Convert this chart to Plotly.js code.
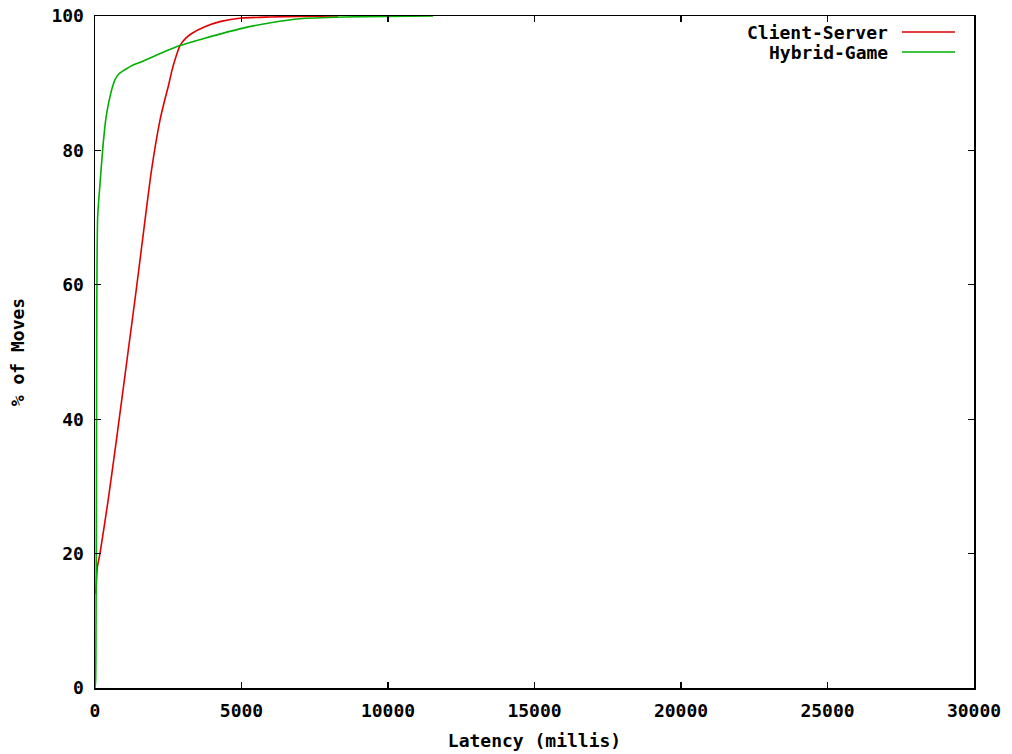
<!DOCTYPE html>
<html>
<head>
<meta charset="utf-8">
<script src="https://cdn.plot.ly/plotly-3.0.1.min.js"></script>
<style>html,body{margin:0;padding:0;background:#fff;}#chart{width:1012px;height:754px;}</style>
</head>
<body>
<div id="chart"></div>
<script>
// Client-Server CDF
const csLatency = [30, 80, 170, 450, 740, 1137, 1400, 1706, 1930, 2218, 2380, 2500, 2620, 2730, 2900, 3100, 3300, 3750, 4300, 5000, 6000, 7000, 8300];
const csPercent = [14, 18, 20, 28, 37.2, 50.3, 59, 69.6, 77.1, 84.5, 87.5, 89.5, 91.8, 93.5, 95.6, 96.7, 97.4, 98.4, 99.2, 99.7, 99.85, 99.95, 100];
// Hybrid-Game CDF
const hgLatency = [0, 20, 35, 50, 60, 90, 170, 205, 280, 365, 440, 512, 600, 680, 820, 1020, 1300, 1590, 2270, 2900, 3750, 5050, 6000, 7000, 8500, 10000, 11540];
const hgPercent = [0, 1, 10, 30, 55, 70, 75, 77, 81, 84.5, 86.5, 88, 89.5, 90.5, 91.4, 92, 92.7, 93.2, 94.5, 95.6, 96.7, 98.2, 99.0, 99.6, 99.85, 99.95, 100];

const seriesNames = ["Client-Server", "Hybrid-Game"];
const seriesColors = ["#e00000", "#00b000"];
const xTicks = [0, 5000, 10000, 15000, 20000, 25000, 30000];
const yTicks = [0, 20, 40, 60, 80, 100];

const FONT = {family: "DejaVu Sans Mono, monospace", size: 18, color: "#000"};

const traces = [
  {x: csLatency, y: csPercent, name: seriesNames[0], mode: "lines", line: {color: seriesColors[0], width: 1.6, shape: "spline", smoothing: 0.6}},
  {x: hgLatency, y: hgPercent, name: seriesNames[1], mode: "lines", line: {color: seriesColors[1], width: 1.6, shape: "spline", smoothing: 0.6}}
];

const L = 95, R = 38, T = 16, B = 66;
const W = 1012 - L - R, H = 754 - T - B;
function px(p){ return (p - L) / W; }
function py(p){ return (754 - B - p) / H; }

const legendY = [py(32), py(52)];
const annotations = seriesNames.map((n, i) => ({
  xref: "paper", yref: "paper", x: px(890), y: legendY[i], xanchor: "right", yanchor: "middle",
  text: "<b>" + n + "</b>", showarrow: false, font: FONT
}));
const shapes = seriesNames.map((n, i) => ({
  type: "line", xref: "paper", yref: "paper", x0: px(902), x1: px(955), y0: legendY[i], y1: legendY[i],
  line: {color: seriesColors[i], width: 1.6}
}));

const axisCommon = {
  showline: true, linecolor: "#000", linewidth: 1.5, mirror: "ticks",
  ticks: "inside", ticklen: 6, tickwidth: 1.2, tickcolor: "#000",
  showgrid: false, zeroline: false, tickfont: FONT, ticklabelstandoff: 6
};

const layout = {
  width: 1012, height: 754,
  margin: {l: L, r: R, t: T, b: B},
  paper_bgcolor: "#fff", plot_bgcolor: "#fff",
  showlegend: false,
  xaxis: Object.assign({}, axisCommon, {
    range: [0, 30000], tickvals: xTicks, ticktext: xTicks.map(v => "<b>" + v + "</b>"),
    title: {text: "<b>Latency (millis)</b>", font: FONT, standoff: 14}
  }),
  yaxis: Object.assign({}, axisCommon, {
    range: [0, 100], tickvals: yTicks, ticktext: yTicks.map(v => "<b>" + v + "</b>"),
    title: {text: "<b>% of Moves</b>", font: FONT, standoff: 22}
  }),
  annotations: annotations,
  shapes: shapes
};

Plotly.newPlot("chart", traces, layout, {displayModeBar: false, staticPlot: true});
</script>
</body>
</html>
